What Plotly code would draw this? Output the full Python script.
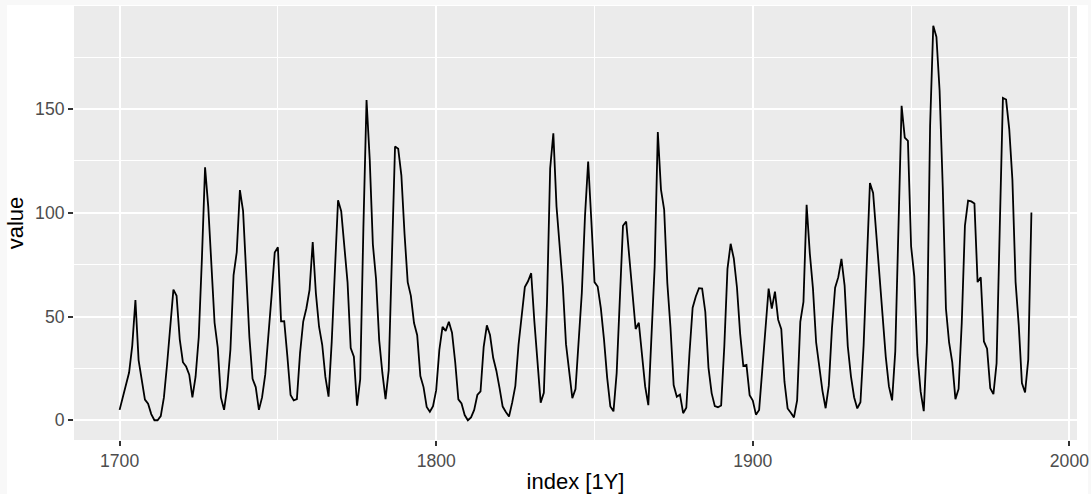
import plotly.graph_objects as go

years = list(range(1700, 1989))
sunspots = [
    5, 11, 16, 23, 36, 58, 29, 20, 10, 8,
    3, 0, 0, 2, 11, 27, 47, 63, 60, 39,
    28, 26, 22, 11, 21, 40, 78, 122, 103, 73,
    47, 35, 11, 5, 16, 34, 70, 81, 111, 101,
    73, 40, 20, 16, 5, 11, 22, 40, 60, 80.9,
    83.4, 47.7, 47.8, 30.7, 12.2, 9.6, 10.2, 32.4, 47.6, 54.0,
    62.9, 85.9, 61.2, 45.1, 36.4, 20.9, 11.4, 37.8, 69.8, 106.1,
    100.8, 81.6, 66.5, 34.8, 30.6, 7.0, 19.8, 92.5, 154.4, 125.9,
    84.8, 68.1, 38.5, 22.8, 10.2, 24.1, 82.9, 132.0, 130.9, 118.1,
    89.9, 66.6, 60.0, 46.9, 41.0, 21.3, 16.0, 6.4, 4.1, 6.8,
    14.5, 34.0, 45.0, 43.1, 47.5, 42.2, 28.1, 10.1, 8.1, 2.5,
    0.0, 1.4, 5.0, 12.2, 13.9, 35.4, 45.8, 41.1, 30.1, 23.9,
    15.6, 6.6, 4.0, 1.8, 8.5, 16.6, 36.3, 49.6, 64.2, 67.0,
    70.9, 47.8, 27.5, 8.5, 13.2, 56.9, 121.5, 138.3, 103.2, 85.7,
    64.6, 36.7, 24.2, 10.7, 15.0, 40.1, 61.5, 98.5, 124.7, 96.3,
    66.6, 64.5, 54.1, 39.0, 20.6, 6.7, 4.3, 22.7, 54.8, 93.8,
    95.8, 77.2, 59.1, 44.0, 47.0, 30.5, 16.3, 7.3, 37.6, 74.0,
    139.0, 111.2, 101.6, 66.2, 44.7, 17.0, 11.3, 12.4, 3.4, 6.0,
    32.3, 54.3, 59.7, 63.7, 63.5, 52.2, 25.4, 13.1, 6.8, 6.3,
    7.1, 35.6, 73.0, 85.1, 78.0, 64.0, 41.8, 26.2, 26.7, 12.1,
    9.5, 2.7, 5.0, 24.4, 42.0, 63.5, 53.8, 62.0, 48.5, 43.9,
    18.6, 5.7, 3.6, 1.4, 9.6, 47.4, 57.1, 103.9, 80.6, 63.6,
    37.6, 26.1, 14.2, 5.8, 16.7, 44.3, 63.9, 69.0, 77.8, 64.9,
    35.7, 21.2, 11.1, 5.7, 8.7, 36.1, 79.7, 114.4, 109.6, 88.8,
    67.8, 47.5, 30.6, 16.3, 9.6, 33.2, 92.6, 151.6, 136.3, 134.7,
    83.9, 69.4, 31.5, 13.9, 4.4, 38.0, 141.7, 190.2, 184.8, 159.0,
    112.3, 53.9, 37.5, 27.9, 10.2, 15.1, 47.0, 93.8, 105.9, 105.5,
    104.5, 66.6, 68.9, 38.0, 34.5, 15.5, 12.6, 27.5, 92.5, 155.4,
    154.6, 140.4, 115.9, 66.6, 45.9, 17.9, 13.4, 29.2, 100.2,
]
x_ticks = [1700, 1800, 1900, 2000]
y_ticks = [0, 50, 100, 150]
x_title = "index [1Y]"
y_title = "value"

W, H = 1091, 494
ML, MR, MT, MB = 74, 14, 6, 54
PW, PH = W - ML - MR, H - MT - MB

xmin, xmax = min(years), max(years)
ymin, ymax = min(sunspots), max(sunspots)
xpad = (xmax - xmin) * 0.05
ypad = (ymax - ymin) * 0.05

FONT = "Liberation Sans, Arial, sans-serif"

fig = go.Figure(
    go.Scatter(
        x=years, y=sunspots, mode="lines",
        line=dict(color="black", width=1.8),
        hoverinfo="x+y",
    )
)

axis_common = dict(
    ticks="outside", ticklen=5, tickwidth=1.5, tickcolor="#333333",
    tickfont=dict(family=FONT, size=17.6, color="#4D4D4D"),
    showgrid=True, gridcolor="white", gridwidth=2,
    zeroline=False, showline=False, automargin=False,
)

fig.update_layout(
    width=W, height=H, autosize=False,
    margin=dict(l=ML, r=MR, t=MT, b=MB, autoexpand=False),
    paper_bgcolor="white", plot_bgcolor="#EBEBEB",
    showlegend=False,
    font=dict(family=FONT),
    xaxis=dict(
        range=[xmin - xpad, xmax + xpad], tickvals=x_ticks,
        ticktext=[str(v) for v in x_ticks],
        minor=dict(tick0=1700, dtick=50, showgrid=True, gridcolor="white", gridwidth=1),
        title=dict(text=x_title, font=dict(family=FONT, size=22, color="black"), standoff=6),
        **axis_common,
    ),
    yaxis=dict(
        range=[ymin - ypad, ymax + ypad], tickvals=y_ticks,
        ticktext=[str(v) for v in y_ticks],
        minor=dict(tick0=0, dtick=25, showgrid=True, gridcolor="white", gridwidth=1),
        title=dict(text=y_title, font=dict(family=FONT, size=22, color="black"), standoff=5),
        **axis_common,
    ),
)

# faint light-gray frame around the page edges
def px_x(p):
    return (p - ML) / PW

def px_y(p):
    return 1 - (p - MT) / PH

border = "#F8F8F8"
shapes = [
    dict(type="rect", xref="paper", yref="paper", x0=px_x(0), x1=px_x(7), y0=px_y(H), y1=px_y(0),
         fillcolor=border, line=dict(width=0), layer="below"),
    dict(type="rect", xref="paper", yref="paper", x0=px_x(0), x1=px_x(W), y0=px_y(5), y1=px_y(0),
         fillcolor=border, line=dict(width=0), layer="below"),
    dict(type="rect", xref="paper", yref="paper", x0=px_x(1088), x1=px_x(W), y0=px_y(H), y1=px_y(0),
         fillcolor=border, line=dict(width=0), layer="below"),
]
fig.update_layout(shapes=shapes)

fig.write_html(
    "out.html",
    config={"displayModeBar": False},
    post_script="document.body.style.margin='0';document.body.style.overflow='hidden';",
)
